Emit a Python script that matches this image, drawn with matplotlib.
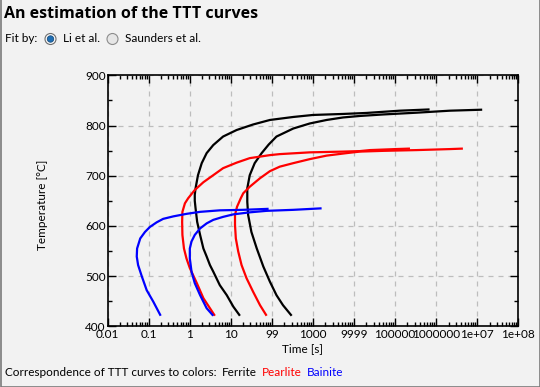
import matplotlib
matplotlib.use("Agg")
import matplotlib.pyplot as plt
from matplotlib.patches import Circle
from matplotlib.ticker import FixedLocator, FixedFormatter, LogLocator, NullFormatter, MultipleLocator

plt.rcParams['font.family'] = ['Lato', 'DejaVu Sans']

# ---------------- data ----------------
title = "An estimation of the TTT curves"
fit_label = "Fit by:"
fit_options = ["Li et al.", "Saunders et al."]
x_label = "Time [s]"
y_label = "Temperature [°C]"
legend_intro = "Correspondence of TTT curves to colors:"
phase_names = ["Ferrite", "Pearlite", "Bainite"]
phase_colors = ["#000000", "#ff0000", "#0000ff"]

x_tick_values = [0.01, 0.1, 1, 10, 100, 1000, 1e4, 1e5, 1e6, 1e7, 1e8]
x_tick_labels = ["0.01", "0.1", "1", "10", "99", "1000", "9999", "100000", "1000000", "1e+07", "1e+08"]
y_tick_values = [400, 500, 600, 700, 800, 900]

# Ferrite (black)
ferrite_start_t = [16.6, 11.5, 7.94, 5.37, 3.72, 3.09, 2.57, 2.14, 1.78, 1.51, 1.38, 1.32, 1.32, 1.38,
                   1.58, 1.95, 2.57, 3.72, 6.46, 13.8, 34.7, 89.1, 331, 1000, 5370, 2.0e4, 1.29e5, 6.9e5]
ferrite_start_T = [421, 439, 462, 482, 509, 522, 539, 555, 582, 608, 635, 650, 662, 675,
                   701, 725, 745, 761, 778, 791, 802, 811, 817, 821, 823, 825, 829.5, 832]
ferrite_finish_t = [302, 186, 129, 89.1, 61.7, 42.7, 31.6, 26.3, 25.1, 25.1, 28.8, 38.0, 56.2, 83.2,
                    129, 331, 832, 2140, 5370, 13800, 51300, 331000, 2.14e6, 1.32e7]
ferrite_finish_T = [421, 442, 462, 489, 519, 555, 588, 622, 648, 675, 701, 725, 745, 762,
                    778, 794, 804, 811, 816, 819, 822, 825.5, 829.5, 831.5]

# Pearlite (red)
pearlite_start_t = [4.07, 2.14, 1.48, 1.0, 0.83, 0.72, 0.66, 0.65, 0.66, 0.76, 0.91, 1.32, 2.14, 3.72,
                    6.46, 13.8, 28.8, 51.3, 89.1, 155, 832, 5370, 13800, 24000, 1.0e5, 2.3e5]
pearlite_start_T = [421, 456, 486, 516, 535, 555, 582, 608, 628, 645, 655, 671.5, 687, 701,
                    715, 726, 735, 738, 741, 743, 746.5, 748, 749, 751, 753, 754]
pearlite_finish_t = [74.1, 51.3, 34.7, 24.0, 18.2, 15.1, 13.2, 12.6, 12.6, 14.1, 17.4, 20.0, 28.8, 51.3,
                     89.1, 155, 331, 832, 2140, 6610, 13800, 51300, 331000, 2.14e6, 4.47e6]
pearlite_finish_T = [421, 442, 469, 496, 522, 549, 575, 602, 622, 638, 655, 665, 678, 695,
                     709, 718, 725, 733, 740, 745, 748, 749.5, 751, 753, 754]

# Bainite (blue)
bainite_start_t = [0.195, 0.129, 0.089, 0.068, 0.055, 0.051, 0.052, 0.062, 0.081, 0.107, 0.155,
                   0.224, 0.398, 0.83, 1.78, 5.37, 20, 83]
bainite_start_T = [421, 449, 472, 499, 522, 539, 555, 575, 588, 598, 607,
                   614, 619, 624, 628, 631, 632, 634]
bainite_finish_t = [3.72, 2.57, 1.78, 1.32, 1.10, 1.0, 1.0, 1.10, 1.32, 1.78, 2.57, 3.72, 6.46,
                    11.5, 28.8, 74.1, 331, 1620]
bainite_finish_T = [421, 436, 462, 486, 509, 535, 555, 569, 582, 595, 605, 612, 618,
                    623, 627, 630, 632, 635]

curves = [
    (ferrite_start_t, ferrite_start_T, phase_colors[0]),
    (ferrite_finish_t, ferrite_finish_T, phase_colors[0]),
    (pearlite_start_t, pearlite_start_T, phase_colors[1]),
    (pearlite_finish_t, pearlite_finish_T, phase_colors[1]),
    (bainite_start_t, bainite_start_T, phase_colors[2]),
    (bainite_finish_t, bainite_finish_T, phase_colors[2]),
]

# ---------------- figure ----------------
W, H = 540, 387
bg = "#f2f2f2"
fs = 8.5
fig = plt.figure(figsize=(W / 100, H / 100), dpi=100, facecolor=bg)

L, R, T, B = 107.7, 518.3, 75.3, 326.3
ax = fig.add_axes([L / W, 1 - B / H, (R - L) / W, (B - T) / H])
ax.set_facecolor(bg)

for t, temp, c in curves:
    ax.plot(t, temp, color=c, lw=1.6, solid_joinstyle='round', solid_capstyle='butt', zorder=3)

ax.set_xscale('log')
ax.set_xlim(0.01, 1e8)
ax.set_ylim(400, 900)
ax.xaxis.set_major_locator(FixedLocator(x_tick_values))
ax.xaxis.set_major_formatter(FixedFormatter(x_tick_labels))
ax.xaxis.set_minor_locator(LogLocator(base=10, subs=range(2, 10), numticks=100))
ax.xaxis.set_minor_formatter(NullFormatter())
ax.yaxis.set_major_locator(FixedLocator(y_tick_values))
ax.yaxis.set_minor_locator(MultipleLocator(50))

ax.tick_params(which='both', direction='in', top=True, right=True, width=1, colors='black',
               labelsize=fs)
ax.tick_params(which='major', length=5.8)
ax.tick_params(which='minor', length=3)
ax.tick_params(axis='x', which='major', pad=2)
ax.tick_params(axis='y', which='major', pad=1.5)

for s in ax.spines.values():
    s.set_linewidth(1.2)
    s.set_color('black')

ax.grid(True, which='major', color='#bdbdbd', linestyle=(0, (4, 4)), linewidth=0.9, zorder=1)
ax.set_axisbelow(True)

# ---------------- overlay in pixel coords ----------------
ov = fig.add_axes([0, 0, 1, 1], zorder=5)
ov.set_xlim(0, W)
ov.set_ylim(H, 0)
ov.axis('off')

ov.text(4, 14, title, fontsize=11.5, fontweight='bold', va='center', ha='left',
        family=['Open Sans', 'DejaVu Sans'])
ov.text(5, 39, fit_label, fontsize=fs, va='center', ha='left')

# radio buttons
ov.add_patch(Circle((50.5, 39), 5.5, facecolor='#f8f8f8', edgecolor='#6e6e6e', lw=0.8))
ov.add_patch(Circle((50.5, 39), 3.2, facecolor='#1f6fb5', edgecolor='#1a4f80', lw=0.6))
ov.text(63, 39, fit_options[0], fontsize=fs, va='center', ha='left')
ov.add_patch(Circle((112.5, 39), 5.5, facecolor='#e6e6e6', edgecolor='#8c8c8c', lw=0.8))
ov.text(125, 39, fit_options[1], fontsize=fs, va='center', ha='left')

ov.text(302, 349, x_label, fontsize=fs, va='center', ha='center')
ov.text(43, 205, y_label, fontsize=fs, va='center', ha='center', rotation=90)

intro = ov.text(5, 373, legend_intro, fontsize=fs, va='center', ha='left')
fig.canvas.draw()
renderer = fig.canvas.get_renderer()
inv = ov.transData.inverted()
x_end = inv.transform(intro.get_window_extent(renderer).get_points())[1][0]
ref_x = [214, 251, 293]
x_cur = x_end + 5
for x0, name, c in zip(ref_x, phase_names, phase_colors):
    xp = max(x0, x_cur)
    tx = ov.text(xp, 373, name, fontsize=fs, va='center', ha='left', color=c)
    x_cur = inv.transform(tx.get_window_extent(renderer).get_points())[1][0] + 5

# window border
ov.plot([0.5, 0.5, W - 0.5, W - 0.5], [0, H - 0.5, H - 0.5, 0], color='#7a7a7a', lw=1.2)

fig.savefig("out.png", dpi=100, facecolor=bg)
